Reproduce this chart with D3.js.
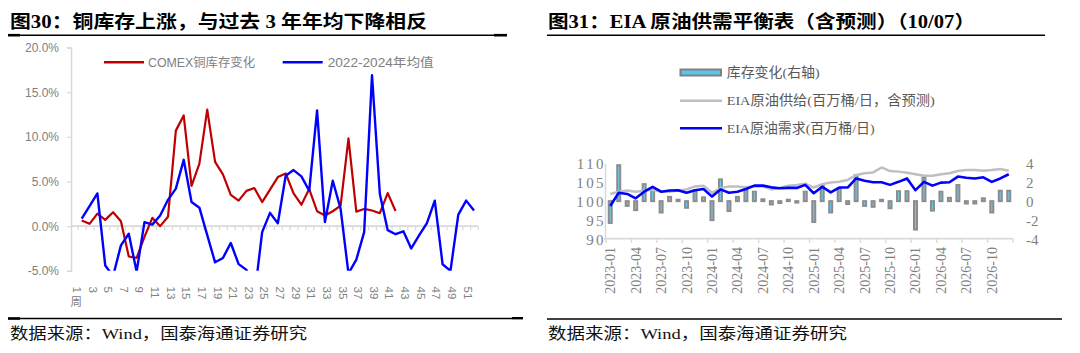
<!DOCTYPE html>
<html><head><meta charset="utf-8">
<script src="https://cdn.jsdelivr.net/npm/d3@7/dist/d3.min.js"></script>
<style>body{margin:0;background:#fff} svg{display:block}</style>
</head><body><svg id="c" width="1080" height="353"></svg>
<script>
// ---------- Left chart data (Figure 30) ----------
const weeks = [1,2,3,4,5,6,7,8,9,10,11,12,13,14,15,16,17,18,19,20,21,22,23,24,25,26,27,28,29,30,31,32,33,34,35,36,37,38,39,40,41,42,43,44,45,46,47,48,49,50,51];
const weekTicks = [1,3,5,7,9,11,13,15,17,19,21,23,25,27,29,31,33,35,37,39,41,43,45,47,49,51];
const comexChange = [0.63,0.26,1.4,0.7,1.56,0.56,-3.4,-3.55,-1.2,0.93,0.0,1.05,10.7,12.4,4.5,7.0,13.05,7.2,5.8,3.5,2.86,3.95,4.27,2.7,4.1,5.5,5.9,3.67,2.4,4.16,1.67,1.2,1.67,2.3,9.84,1.63,1.93,1.75,1.45,3.7,1.7];
const avg2022_2024 = [0.85,2.25,3.67,-4.4,-5.6,-2.15,-0.85,-5.1,0.45,0.17,1.19,2.95,4.2,7.43,2.7,2.07,-1.0,-4.05,-3.56,-1.89,-4.25,-4.9,-8.0,-0.67,1.49,0.33,5.65,6.28,5.57,3.97,12.96,0.45,5.09,1.93,-5.3,-3.75,-0.67,16.9,3.6,-0.45,-0.9,-0.58,-2.5,-1.04,0.35,2.86,-4.27,-5.0,1.3,2.86,1.75];
const leftYTicks = [-5,0,5,10,15,20];
const leftSeriesNames = ["COMEX铜库存变化","2022-2024年均值"];

// ---------- Right chart data (Figure 31) ----------
const months = ["2023-01","2023-02","2023-03","2023-04","2023-05","2023-06","2023-07","2023-08","2023-09","2023-10","2023-11","2023-12",
"2024-01","2024-02","2024-03","2024-04","2024-05","2024-06","2024-07","2024-08","2024-09","2024-10","2024-11","2024-12",
"2025-01","2025-02","2025-03","2025-04","2025-05","2025-06","2025-07","2025-08","2025-09","2025-10","2025-11","2025-12",
"2026-01","2026-02","2026-03","2026-04","2026-05","2026-06","2026-07","2026-08","2026-09","2026-10","2026-11","2026-12"];
const monthTicks = ["2023-01","2023-04","2023-07","2023-10","2024-01","2024-04","2024-07","2024-10","2025-01","2025-04","2025-07","2025-10","2026-01","2026-04","2026-07","2026-10"];
const inventoryChange = [-2.3,3.8,-0.5,-0.95,1.8,1.25,-1.2,0.45,0.15,-0.7,1.1,0.4,-2.0,2.3,-1.05,0.45,1.25,1.0,0.2,-0.35,-0.2,0.15,-0.15,1.0,-2.2,1.7,-1.2,1.35,-0.3,2.75,-0.5,-0.6,0.15,-0.75,1.05,1.05,-3.0,2.5,-1.0,1.0,0.35,1.7,-0.25,-0.25,0.3,-1.2,1.1,1.1];
const eiaSupply = [101.9,102.5,102.8,102.5,102.8,103.0,102.5,102.5,102.8,103.1,103.9,104.1,102.2,103.4,103.9,103.9,103.7,103.9,103.9,103.1,103.5,104.1,104.3,104.6,103.6,104.5,104.9,105.15,105.6,106.9,107.35,107.6,108.9,107.95,107.8,107.5,107.1,106.7,106.7,107.1,107.35,107.95,108.2,108.2,108.05,108.2,108.5,108.05];
const eiaDemand = [98.7,102.2,101.9,100.75,102.5,103.8,102.5,102.8,102.9,102.2,102.9,103.2,101.2,103.1,102.2,102.5,103.2,104.1,104.1,103.65,103.4,103.5,103.5,104.3,102.1,103.8,102.3,103.6,103.6,106.0,105.4,105.0,105.0,104.3,105.1,106.0,102.9,105.1,104.1,104.9,105.0,106.5,106.2,106.0,106.3,105.1,106.0,107.1];
const rightLeftTicks = [90,95,100,105,110];
const rightRightTicks = [-4,-2,0,2,4];
const rightSeriesNames = ["库存变化(右轴)","EIA原油供给(百万桶/日，含预测)","EIA原油需求(百万桶/日)"];

const svg = d3.select("#c");
const SERIF = "'Liberation Serif','DejaVu Serif','Noto Sans CJK SC',serif";
const SANS = "'Liberation Sans','Noto Sans CJK SC',sans-serif";

// ---------- headers / footers ----------
function header(x, text, len) {
  svg.append("text").attr("x", x).attr("y", 28).text(text)
    .attr("font-family", SERIF).attr("font-weight", "bold").attr("font-size", 18)
    .attr("fill", "#000").attr("textLength", len).attr("lengthAdjust", "spacingAndGlyphs");
}
header(10, "图30：铜库存上涨，与过去 3 年年均下降相反", 417);
header(548, "图31：EIA 原油供需平衡表（含预测）（10/07）", 427);
function hline(x0, x1, y, w) {
  svg.append("line").attr("x1", x0).attr("x2", x1).attr("y1", y).attr("y2", y)
    .attr("stroke", "#000").attr("stroke-width", w);
}
hline(8, 507, 35.2, 1.5); hline(8, 20, 35.2, 2.6); hline(494, 507, 35.2, 2.6);
hline(8, 512, 318.5, 1.5); hline(8, 20, 318.5, 2.6); hline(512, 523, 318.2, 2.4);
hline(547, 1045, 35.2, 1.6);
hline(547, 1062, 319, 1.6);
function footer(x, len) {
  svg.append("text").attr("x", x).attr("y", 339).text("数据来源：Wind，国泰海通证券研究")
    .attr("font-family", SERIF).attr("font-size", 15.5).attr("fill", "#111")
    .attr("textLength", len).attr("lengthAdjust", "spacingAndGlyphs");
}
footer(10, 297); footer(548, 299);

// ---------- Left chart ----------
const xL = d3.scaleLinear().domain([1, 51]).range([81.7, 474]);
const xLab = d3.scaleLinear().domain([1, 51]).range([77, 467.5]);
const yL = d3.scaleLinear().domain([-5, 20]).range([270.8, 47.6]);
const gL = svg.append("g");
const LGRAY = "#d9d9d9", TGRAY = "#808080";

const yAxisL = d3.axisLeft(yL).tickValues(leftYTicks).tickSize(4).tickPadding(8)
  .tickFormat(d => d.toFixed(1) + "%");
const ya = gL.append("g").attr("transform", "translate(71,0)").call(yAxisL);
ya.select(".domain").attr("stroke", LGRAY).attr("stroke-width", 1.5);
ya.selectAll(".tick line").attr("stroke", LGRAY).attr("stroke-width", 1.2);
ya.selectAll(".tick text").attr("font-family", SANS).attr("font-size", 12).attr("fill", TGRAY);

// zero line with category ticks
gL.append("line").attr("x1", 71).attr("x2", 478).attr("y1", yL(0)).attr("y2", yL(0))
  .attr("stroke", LGRAY).attr("stroke-width", 1.6);
const boundaries = weeks.map(w => w - 0.5).concat([51.5]);
const xa = gL.append("g").attr("transform", `translate(0,${yL(0)})`)
  .call(d3.axisBottom(xL).tickValues(boundaries).tickSize(4).tickFormat(""));
xa.select(".domain").remove();
xa.selectAll(".tick line").attr("stroke", LGRAY).attr("stroke-width", 1.2);

// week labels (vertical)
weekTicks.forEach(w => {
  gL.append("text").attr("transform", `translate(${xLab(w)},286.5) rotate(90)`)
    .attr("text-anchor", "start").attr("dominant-baseline", "central")
    .attr("font-family", SANS).attr("font-size", 11.5).attr("fill", TGRAY).text(w);
});
gL.append("text").attr("x", 76.2).attr("y", 301.5).attr("text-anchor", "middle")
  .attr("dominant-baseline", "central").attr("font-family", SANS).attr("font-size", 11.5)
  .attr("fill", TGRAY).text("周");

// clip
svg.append("defs").append("clipPath").attr("id", "clipL").append("rect")
  .attr("x", 60).attr("y", yL(20)).attr("width", 440).attr("height", yL(-5) - yL(20));

const lineL = d3.line().x((d, i) => xL(weeks[i])).y(d => yL(d));
gL.append("path").datum(comexChange).attr("d", lineL).attr("fill", "none")
  .attr("stroke", "#c00000").attr("stroke-width", 2.2).attr("stroke-linejoin", "round")
  .attr("clip-path", "url(#clipL)");
gL.append("path").datum(avg2022_2024).attr("d", lineL).attr("fill", "none")
  .attr("stroke", "#0000ff").attr("stroke-width", 2.4).attr("stroke-linejoin", "round")
  .attr("clip-path", "url(#clipL)");

// left legend
[[104, 144, 148, "#c00000", 107], [282.7, 322.7, 327.7, "#0000ff", 106]].forEach((l, i) => {
  gL.append("line").attr("x1", l[0]).attr("x2", l[1]).attr("y1", 62.3).attr("y2", 62.3)
    .attr("stroke", l[3]).attr("stroke-width", 2.4);
  gL.append("text").attr("x", l[2]).attr("y", 62.5).attr("dominant-baseline", "central")
    .attr("font-family", SANS).attr("font-size", 12.5).attr("fill", TGRAY)
    .attr("textLength", l[4]).attr("lengthAdjust", "spacingAndGlyphs").text(leftSeriesNames[i]);
});

// ---------- Right chart ----------
const xR = d3.scaleBand().domain(months).range([606, 1013]);
const bw = xR.bandwidth();
const cx = m => xR(m) + bw / 2;
const yR = d3.scaleLinear().domain([90, 110]).range([239, 163.3]);
const yR2 = d3.scaleLinear().domain([-4, 4]).range([239, 163.3]);
const gR = svg.append("g");
const RT = "#7f7f7f";

// left axis
const yaR = gR.append("g").attr("transform", "translate(605,0)")
  .call(d3.axisLeft(yR).tickValues(rightLeftTicks).tickSize(0).tickPadding(0).tickFormat(d => d));
yaR.select(".domain").attr("stroke", LGRAY).attr("stroke-width", 1.5);
yaR.selectAll(".tick text").attr("x", 1).attr("font-family", SERIF).attr("font-size", 15)
  .attr("letter-spacing", "2.4px").attr("fill", RT).attr("dominant-baseline", "central").attr("dy", null);

// right axis labels
const yaR2 = gR.append("g").attr("transform", "translate(1026,0)")
  .call(d3.axisRight(yR2).tickValues(rightRightTicks).tickSize(0).tickPadding(0).tickFormat(d => d));
yaR2.select(".domain").remove();
yaR2.selectAll(".tick text").attr("font-family", SERIF).attr("font-size", 15)
  .attr("fill", RT).attr("dominant-baseline", "central").attr("dy", null);

// bars
gR.selectAll("rect.bar").data(inventoryChange).enter().append("rect")
  .attr("x", (d, i) => cx(months[i]) - 1.5).attr("width", 3)
  .attr("y", d => yR2(Math.max(0, d))).attr("height", d => Math.abs(yR2(d) - yR2(0)))
  .attr("fill", "#6ccbef").attr("stroke", "#8c8c8c").attr("stroke-width", 2);

// x axis
gR.append("line").attr("x1", 604).attr("x2", 1013).attr("y1", 238.6).attr("y2", 238.6)
  .attr("stroke", LGRAY).attr("stroke-width", 1.6);
monthTicks.concat(["end"]).forEach(m => {
  const x = m === "end" ? 1013 : xR(m);
  gR.append("line").attr("x1", x).attr("x2", x).attr("y1", 238.6).attr("y2", 243)
    .attr("stroke", LGRAY).attr("stroke-width", 1.3);
});
monthTicks.forEach(m => {
  gR.append("text").attr("transform", `translate(${cx(m) + 0.5},247) rotate(-90)`)
    .attr("text-anchor", "end").attr("dominant-baseline", "central")
    .attr("font-family", SERIF).attr("font-size", 14).attr("fill", RT).text(m);
});

// lines
const lineR = d3.line().x((d, i) => cx(months[i])).y(d => yR(d));
gR.append("path").datum(eiaSupply).attr("d", lineR).attr("fill", "none")
  .attr("stroke", "#bfbfbf").attr("stroke-width", 2.5).attr("stroke-linejoin", "round");
gR.append("path").datum(eiaDemand).attr("d", lineR).attr("fill", "none")
  .attr("stroke", "#0000ff").attr("stroke-width", 2.6).attr("stroke-linejoin", "round");

// right legend
gR.append("rect").attr("x", 680.5).attr("y", 69.5).attr("width", 40.5).attr("height", 6)
  .attr("fill", "#5bc5ef").attr("stroke", "#808080").attr("stroke-width", 2);
gR.append("line").attr("x1", 680).attr("x2", 722).attr("y1", 100.7).attr("y2", 100.7)
  .attr("stroke", "#bfbfbf").attr("stroke-width", 2.5);
gR.append("line").attr("x1", 680).attr("x2", 722).attr("y1", 128.3).attr("y2", 128.3)
  .attr("stroke", "#0000ff").attr("stroke-width", 2.6);
[[72.5, 93], [100.8, 208], [128.5, 148]].forEach((l, i) => {
  gR.append("text").attr("x", 726.7).attr("y", l[0]).attr("dominant-baseline", "central")
    .attr("font-family", SERIF).attr("font-size", 13.5).attr("fill", "#595959")
    .attr("textLength", l[1]).attr("lengthAdjust", "spacingAndGlyphs").text(rightSeriesNames[i]);
});
</script></body></html>
